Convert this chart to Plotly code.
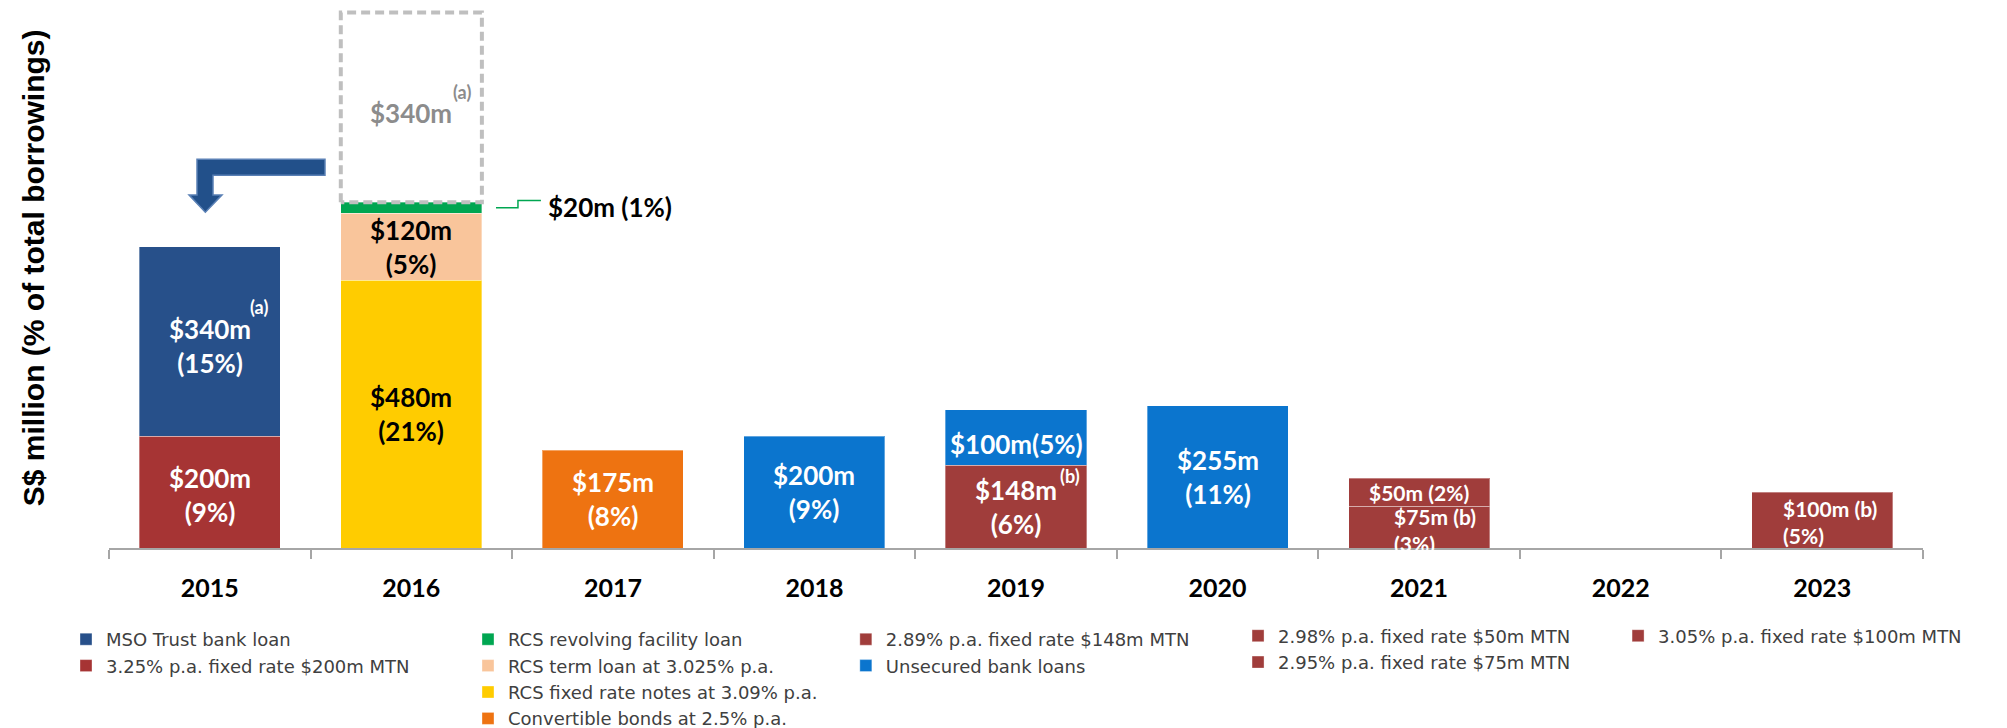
import plotly.graph_objects as go

""" Data """
years = ["2015", "2016", "2017", "2018", "2019", "2020", "2021", "2022", "2023"]

# S$ million maturing per year, one list per facility (None = nothing due)
mtn_200m = [200, None, None, None, None, None, None, None, None]
mso_loan = [340, None, None, None, None, None, None, None, None]
rcs_notes = [None, 480, None, None, None, None, None, None, None]
rcs_term = [None, 120, None, None, None, None, None, None, None]
rcs_revolving = [None, 20, None, None, None, None, None, None, None]
convertible = [None, None, 175, None, None, None, None, None, None]
mtn_148m = [None, None, None, None, 148, None, None, None, None]
unsecured = [None, None, None, 200, 100, 255, None, None, None]
mtn_75m = [None, None, None, None, None, None, 75, None, None]
mtn_50m = [None, None, None, None, None, None, 50, None, None]
mtn_100m = [None, None, None, None, None, None, None, None, 100]
# MSO Trust loan, originally due 2016, shown as a dashed placeholder
mso_original = [None, 340, None, None, None, None, None, None, None]

# % of total borrowings
mtn_200m_pct = [9, None, None, None, None, None, None, None, None]
mso_loan_pct = [15, None, None, None, None, None, None, None, None]
rcs_notes_pct = [None, 21, None, None, None, None, None, None, None]
rcs_term_pct = [None, 5, None, None, None, None, None, None, None]
rcs_revolving_pct = [None, 1, None, None, None, None, None, None, None]
convertible_pct = [None, None, 8, None, None, None, None, None, None]
mtn_148m_pct = [None, None, None, None, 6, None, None, None, None]
unsecured_pct = [None, None, None, 9, 5, 11, None, None, None]
mtn_75m_pct = [None, None, None, None, None, None, 3, None, None]
mtn_50m_pct = [None, None, None, None, None, None, 2, None, None]
mtn_100m_pct = [None, None, None, None, None, None, None, None, 5]

x = list(range(len(years)))
BAR_W = 0.7
LABEL_FONT = "Lato"

# stacking order (bottom first): name, values, pct, colour, legend, rank
series = [
    ("3.25% p.a. fixed rate $200m MTN", mtn_200m, mtn_200m_pct, "#A63434", "legend", 2),
    ("MSO Trust bank loan", mso_loan, mso_loan_pct, "#27508A", "legend", 1),
    ("RCS fixed rate notes at 3.09% p.a.", rcs_notes, rcs_notes_pct, "#FFCC00", "legend2", 3),
    ("RCS term loan at 3.025% p.a.", rcs_term, rcs_term_pct, "#F9C59B", "legend2", 2),
    ("RCS revolving facility loan", rcs_revolving, rcs_revolving_pct, "#00A651", "legend2", 1),
    ("Convertible bonds at 2.5% p.a.", convertible, convertible_pct, "#EE7311", "legend2", 4),
    ("2.89% p.a. fixed rate $148m MTN", mtn_148m, mtn_148m_pct, "#A03D3B", "legend3", 1),
    ("Unsecured bank loans", unsecured, unsecured_pct, "#0B75CE", "legend3", 2),
    ("2.95% p.a. fixed rate $75m MTN", mtn_75m, mtn_75m_pct, "#A03D3B", "legend4", 2),
    ("2.98% p.a. fixed rate $50m MTN", mtn_50m, mtn_50m_pct, "#A03D3B", "legend4", 1),
    ("3.05% p.a. fixed rate $100m MTN", mtn_100m, mtn_100m_pct, "#A03D3B", "legend5", 1),
]

fig = go.Figure()
base = [0] * len(years)
seg = {}  # (name, i) -> (bottom, value, pct)
for name, vals, pct, colour, leg, rank in series:
    fig.add_trace(go.Bar(
        x=x, y=vals, name=name, width=BAR_W,
        marker=dict(color=colour, line=dict(color="rgba(255,255,255,0.35)", width=1)),
        legend=leg, legendrank=rank, hoverinfo="skip",
    ))
    for i, v in enumerate(vals):
        if v is not None:
            seg[(name, i)] = (base[i], v, pct[i])
            base[i] += v

# dashed placeholder on top of 2016
i16 = years.index("2016")
g0 = base[i16]
g1 = g0 + mso_original[i16]
fig.add_trace(go.Scatter(
    x=[i16 - BAR_W / 2, i16 - BAR_W / 2, i16 + BAR_W / 2, i16 + BAR_W / 2, i16 - BAR_W / 2],
    y=[g0, g1, g1, g0, g0], mode="lines", showlegend=False, hoverinfo="skip",
    line=dict(color="#BFBFBF", width=4, dash="9px,5px"),
))

""" Labels """
ann = []


def label(text, i, y, color="white", size=26, **kw):
    ann.append(dict(x=i, y=y, xref="x", yref="y", text=text, showarrow=False,
                    font=dict(family=LABEL_FONT, size=size, color=color, weight=700), **kw))


def mid(name, i):
    b, v, p = seg[(name, i)]
    return b + v / 2


def two_line(name, i):
    b, v, p = seg[(name, i)]
    return f"${v}m<br>({p}%)"


label(two_line("3.25% p.a. fixed rate $200m MTN", 0), 0, mid("3.25% p.a. fixed rate $200m MTN", 0), yshift=-3)
label(two_line("MSO Trust bank loan", 0), 0, mid("MSO Trust bank loan", 0), yshift=-4)
label("(a)", 0, mid("MSO Trust bank loan", 0), size=18, xshift=49, yshift=35)
label(two_line("RCS fixed rate notes at 3.09% p.a.", 1), 1, mid("RCS fixed rate notes at 3.09% p.a.", 1), color="black")
label(two_line("RCS term loan at 3.025% p.a.", 1), 1, mid("RCS term loan at 3.025% p.a.", 1), color="black")
label(f"${mso_original[i16]}m", i16, g0 + 0.47 * mso_original[i16], color="#8C8C8C")
label("(a)", i16, g0 + 0.47 * mso_original[i16], color="#8C8C8C", size=18, xshift=51, yshift=21)
label(two_line("Convertible bonds at 2.5% p.a.", 2), 2, mid("Convertible bonds at 2.5% p.a.", 2))
label(two_line("Unsecured bank loans", 3), 3, mid("Unsecured bank loans", 3))
label(two_line("2.89% p.a. fixed rate $148m MTN", 4), 4, mid("2.89% p.a. fixed rate $148m MTN", 4))
label("(b)", 4, mid("2.89% p.a. fixed rate $148m MTN", 4), size=18, xshift=54, yshift=31)
label(f"${unsecured[4]}m({unsecured_pct[4]}%)", 4, mid("Unsecured bank loans", 4), yshift=-6)
label(two_line("Unsecured bank loans", 5), 5, mid("Unsecured bank loans", 5))
label(f"${mtn_50m[6]}m ({mtn_50m_pct[6]}%)", 6, mid("2.98% p.a. fixed rate $50m MTN", 6), size=21)
label(f"${mtn_75m[6]}m (b)<br>({mtn_75m_pct[6]}%)", 6, mid("2.95% p.a. fixed rate $75m MTN", 6),
      size=21, xanchor="left", align="left", xshift=-27, yshift=-3)
label(f"${mtn_100m[8]}m (b)<br>({mtn_100m_pct[8]}%)", 8, mid("3.05% p.a. fixed rate $100m MTN", 8),
      size=21, xanchor="left", align="left", xshift=-41, yshift=-2)

# green revolving loan is too thin, label it outside with a leader line
rv = mid("RCS revolving facility loan", 1)
label(f"${rcs_revolving[1]}m ({rcs_revolving_pct[1]}%)", 1.668, rv + 2, color="black", xanchor="left")
fig.add_shape(type="path", xref="x", yref="y",
              path=f"M1.42,{rv} L1.529,{rv} L1.529,{rv + 13} L1.643,{rv + 13}",
              line=dict(color="#00A651", width=1.5))

# bent arrow: 2016 placeholder moved to 2015
fig.add_shape(type="path", xref="x", yref="y",
              path="M0.5716,697 L-0.0634,697 L-0.0634,633 L-0.103,633 L-0.022,602 "
                   "L0.0606,633 L0.016,633 L0.016,668 L0.5716,668 Z",
              fillcolor="#22508A", line=dict(color="#5A80B5", width=1.5))

# y axis title
ann.append(dict(x=-0.0419, y=0.52, xref="paper", yref="paper", xanchor="center", yanchor="middle",
                textangle=-90, showarrow=False,
                text="S$ million (% of total borrowings)",
                font=dict(family="Liberation Sans, Arial", size=30, color="black", weight=700)))

legend_style = dict(xanchor="left", yanchor="top", orientation="v", itemwidth=30,
                    bgcolor="rgba(0,0,0,0)", tracegroupgap=0, traceorder="normal",
                    font=dict(family="DejaVu Sans", size=18, color="#404040"))
legend_y = -0.1352

# the page body adds an 8px margin, so the figure is 8px smaller than the window
fig.update_layout(
    width=1999, height=720,
    margin=dict(l=101, r=84, t=0, b=180, autoexpand=False),
    paper_bgcolor="white", plot_bgcolor="white",
    barmode="stack",
    annotations=ann,
    legend=dict(x=-0.0237, y=legend_y, **legend_style),
    legend2=dict(x=0.1979, y=legend_y, **legend_style),
    legend3=dict(x=0.4062, y=legend_y, **legend_style),
    legend4=dict(x=0.6224, y=legend_y + 0.0065, **legend_style),
    legend5=dict(x=0.8319, y=legend_y + 0.0065, **legend_style),
    xaxis=dict(
        range=[-0.5, len(years) - 0.5], tickmode="array", tickvals=x, ticktext=years,
        ticks="", showgrid=False, zeroline=False,
        showline=True, linecolor="#A6A6A6", linewidth=2,
        tickfont=dict(family=LABEL_FONT, size=25, color="black", weight=700),
        ticklabelstandoff=17,
        minor=dict(tickmode="array", tickvals=[k - 0.5 for k in range(len(years) + 1)],
                   ticks="outside", ticklen=9, tickwidth=1.5, tickcolor="#A6A6A6"),
    ),
    yaxis=dict(range=[0, 968], showticklabels=False, showgrid=False, zeroline=False, showline=False),
)

fig.write_html("out.html")
